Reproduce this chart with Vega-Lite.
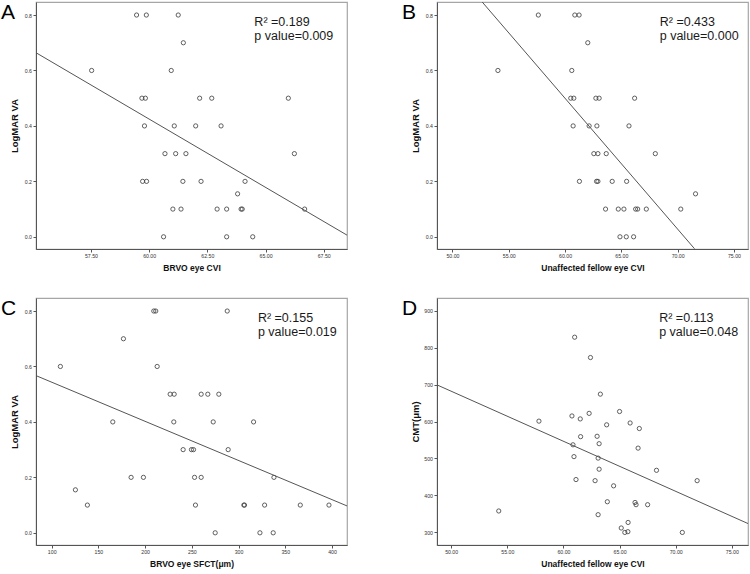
{
  "$schema": "https://vega.github.io/schema/vega-lite/v6.json",
  "padding": {"left": 0, "top": 1, "right": 0, "bottom": 0},
  "columns": 2,
  "spacing": {"row": 24, "column": 53},
  "datasets": {
    "a": [
      {"x": 59.46, "y": 0.8}, {"x": 59.88, "y": 0.8}, {"x": 61.25, "y": 0.8}, {"x": 61.47, "y": 0.7},
      {"x": 57.53, "y": 0.6}, {"x": 60.95, "y": 0.6}, {"x": 59.69, "y": 0.5}, {"x": 59.84, "y": 0.5},
      {"x": 62.17, "y": 0.5}, {"x": 62.69, "y": 0.5}, {"x": 65.98, "y": 0.5}, {"x": 59.8, "y": 0.4},
      {"x": 61.08, "y": 0.4}, {"x": 62.0, "y": 0.4}, {"x": 63.09, "y": 0.4}, {"x": 60.68, "y": 0.3},
      {"x": 61.14, "y": 0.3}, {"x": 61.58, "y": 0.3}, {"x": 66.24, "y": 0.3}, {"x": 59.72, "y": 0.2},
      {"x": 59.89, "y": 0.2}, {"x": 61.45, "y": 0.2}, {"x": 62.23, "y": 0.2}, {"x": 64.12, "y": 0.2},
      {"x": 63.8, "y": 0.155}, {"x": 61.02, "y": 0.1}, {"x": 61.37, "y": 0.1}, {"x": 62.92, "y": 0.1},
      {"x": 63.33, "y": 0.1}, {"x": 63.95, "y": 0.1}, {"x": 64.0, "y": 0.1}, {"x": 66.68, "y": 0.1},
      {"x": 60.62, "y": 0}, {"x": 63.33, "y": 0}, {"x": 64.45, "y": 0}
    ],
    "a_fit": [{"x": 55.14, "y": 0.664}, {"x": 68.5, "y": 0.006}],
    "a_note": [{"x": 64.52, "y": 0.76, "label": "R² =0.189"}, {"x": 64.52, "y": 0.7116, "label": "p value=0.009"}],
    "b": [
      {"x": 57.63, "y": 0.8}, {"x": 60.87, "y": 0.8}, {"x": 61.25, "y": 0.8}, {"x": 62.02, "y": 0.7},
      {"x": 54.04, "y": 0.6}, {"x": 60.6, "y": 0.6}, {"x": 60.51, "y": 0.5}, {"x": 60.78, "y": 0.5},
      {"x": 62.74, "y": 0.5}, {"x": 63.03, "y": 0.5}, {"x": 66.18, "y": 0.5}, {"x": 60.72, "y": 0.4},
      {"x": 62.14, "y": 0.4}, {"x": 62.83, "y": 0.4}, {"x": 65.68, "y": 0.4}, {"x": 62.56, "y": 0.3},
      {"x": 62.92, "y": 0.3}, {"x": 63.66, "y": 0.3}, {"x": 68.02, "y": 0.3}, {"x": 61.28, "y": 0.2},
      {"x": 62.8, "y": 0.2}, {"x": 62.92, "y": 0.2}, {"x": 64.19, "y": 0.2}, {"x": 65.47, "y": 0.2},
      {"x": 71.59, "y": 0.155}, {"x": 63.6, "y": 0.1}, {"x": 64.73, "y": 0.1}, {"x": 65.23, "y": 0.1},
      {"x": 66.27, "y": 0.1}, {"x": 66.45, "y": 0.1}, {"x": 67.22, "y": 0.1}, {"x": 70.28, "y": 0.1},
      {"x": 64.88, "y": 0}, {"x": 65.44, "y": 0}, {"x": 66.09, "y": 0}
    ],
    "b_fit": [{"x": 52.58, "y": 0.85}, {"x": 71.5, "y": -0.043}],
    "b_note": [{"x": 68.41, "y": 0.76, "label": "R² =0.433"}, {"x": 68.41, "y": 0.7116, "label": "p value=0.000"}],
    "c": [
      {"x": 209.3, "y": 0.8}, {"x": 211.4, "y": 0.8}, {"x": 287.9, "y": 0.8}, {"x": 176.8, "y": 0.7},
      {"x": 109.3, "y": 0.6}, {"x": 212.9, "y": 0.6}, {"x": 226.8, "y": 0.5}, {"x": 231.1, "y": 0.5},
      {"x": 260, "y": 0.5}, {"x": 267.1, "y": 0.5}, {"x": 278.9, "y": 0.5}, {"x": 165.4, "y": 0.4},
      {"x": 230.7, "y": 0.4}, {"x": 272.9, "y": 0.4}, {"x": 316.1, "y": 0.4}, {"x": 240.7, "y": 0.3},
      {"x": 249.6, "y": 0.3}, {"x": 251.8, "y": 0.3}, {"x": 288.9, "y": 0.3}, {"x": 185, "y": 0.2},
      {"x": 198.2, "y": 0.2}, {"x": 252.9, "y": 0.2}, {"x": 260, "y": 0.2}, {"x": 337.9, "y": 0.2},
      {"x": 125.4, "y": 0.155}, {"x": 138.2, "y": 0.1}, {"x": 253.9, "y": 0.1}, {"x": 305.7, "y": 0.1},
      {"x": 306.4, "y": 0.1}, {"x": 327.9, "y": 0.1}, {"x": 366.1, "y": 0.1}, {"x": 396.8, "y": 0.1},
      {"x": 275, "y": 0}, {"x": 322.9, "y": 0}, {"x": 337.1, "y": 0}
    ],
    "c_fit": [{"x": 83.2, "y": 0.567}, {"x": 416.1, "y": 0.097}],
    "c_note": [{"x": 320.7, "y": 0.76, "label": "R² =0.155"}, {"x": 320.7, "y": 0.7116, "label": "p value=0.019"}],
    "d": [
      {"x": 61.0, "y": 828}, {"x": 62.41, "y": 773}, {"x": 63.29, "y": 674}, {"x": 57.82, "y": 601},
      {"x": 60.76, "y": 615}, {"x": 61.5, "y": 607}, {"x": 62.29, "y": 622}, {"x": 65.0, "y": 627},
      {"x": 63.85, "y": 591}, {"x": 65.94, "y": 596}, {"x": 66.76, "y": 581}, {"x": 61.53, "y": 559},
      {"x": 63.0, "y": 560}, {"x": 63.18, "y": 540}, {"x": 60.85, "y": 537}, {"x": 66.65, "y": 528},
      {"x": 60.94, "y": 505}, {"x": 63.09, "y": 501}, {"x": 63.18, "y": 471}, {"x": 68.29, "y": 468},
      {"x": 61.12, "y": 443}, {"x": 62.82, "y": 440}, {"x": 71.91, "y": 440}, {"x": 64.47, "y": 426},
      {"x": 63.91, "y": 383}, {"x": 66.38, "y": 381}, {"x": 66.47, "y": 375}, {"x": 67.5, "y": 375},
      {"x": 54.24, "y": 358}, {"x": 63.09, "y": 348}, {"x": 65.76, "y": 327}, {"x": 65.15, "y": 312},
      {"x": 65.47, "y": 300}, {"x": 65.74, "y": 302}, {"x": 70.59, "y": 300}
    ],
    "d_fit": [{"x": 48.74, "y": 699}, {"x": 76.44, "y": 324}],
    "d_note": [{"x": 68.53, "y": 869, "label": "R² =0.113"}, {"x": 68.53, "y": 832.5, "label": "p value=0.048"}]
  },
  "concat": [
    {
      "title": {"text": "A"},
      "width": 311,
      "height": 247,
      "encoding": {
        "x": {"field": "x", "type": "quantitative", "title": "BRVO eye CVI",
          "scale": {"domain": [55.14, 68.5], "nice": false, "zero": false},
          "axis": {"values": [57.5, 60, 62.5, 65, 67.5], "format": ".2f"}},
        "y": {"field": "y", "type": "quantitative", "title": "LogMAR VA",
          "scale": {"domain": [-0.044, 0.847], "nice": false, "zero": false},
          "axis": {"values": [0, 0.2, 0.4, 0.6, 0.8], "format": ".1f"}}
      },
      "layer": [
        {"data": {"name": "a"}, "mark": {"type": "point", "shape": "circle", "filled": false, "size": 18, "stroke": "#3a3a3a", "strokeWidth": 0.8, "opacity": 1}},
        {"data": {"name": "a_fit"}, "mark": {"type": "line", "clip": true, "stroke": "#555555", "strokeWidth": 1}},
        {"data": {"name": "a_note"}, "mark": {"type": "text", "align": "left", "baseline": "alphabetic", "fontSize": 12.5, "color": "#1a1a1a"}, "encoding": {"text": {"field": "label", "type": "nominal"}}}
      ]
    },
    {
      "title": {"text": "B"},
      "width": 311,
      "height": 247,
      "encoding": {
        "x": {"field": "x", "type": "quantitative", "title": "Unaffected fellow eye CVI",
          "scale": {"domain": [48.63, 76.25], "nice": false, "zero": false},
          "axis": {"values": [50, 55, 60, 65, 70, 75], "format": ".2f"}},
        "y": {"field": "y", "type": "quantitative", "title": "LogMAR VA",
          "scale": {"domain": [-0.044, 0.847], "nice": false, "zero": false},
          "axis": {"values": [0, 0.2, 0.4, 0.6, 0.8], "format": ".1f"}}
      },
      "layer": [
        {"data": {"name": "b"}, "mark": {"type": "point", "shape": "circle", "filled": false, "size": 18, "stroke": "#3a3a3a", "strokeWidth": 0.8, "opacity": 1}},
        {"data": {"name": "b_fit"}, "mark": {"type": "line", "clip": true, "stroke": "#555555", "strokeWidth": 1}},
        {"data": {"name": "b_note"}, "mark": {"type": "text", "align": "left", "baseline": "alphabetic", "fontSize": 12.5, "color": "#1a1a1a"}, "encoding": {"text": {"field": "label", "type": "nominal"}}}
      ]
    },
    {
      "title": {"text": "C"},
      "width": 311,
      "height": 247,
      "encoding": {
        "x": {"field": "x", "type": "quantitative", "title": "BRVO eye SFCT(μm)",
          "scale": {"domain": [83.2, 416.1], "nice": false, "zero": false},
          "axis": {"values": [100, 150, 200, 250, 300, 350, 400], "format": "d"}},
        "y": {"field": "y", "type": "quantitative", "title": "LogMAR VA",
          "scale": {"domain": [-0.044, 0.847], "nice": false, "zero": false},
          "axis": {"values": [0, 0.2, 0.4, 0.6, 0.8], "format": ".1f"}}
      },
      "layer": [
        {"data": {"name": "c"}, "mark": {"type": "point", "shape": "circle", "filled": false, "size": 18, "stroke": "#3a3a3a", "strokeWidth": 0.8, "opacity": 1}},
        {"data": {"name": "c_fit"}, "mark": {"type": "line", "clip": true, "stroke": "#555555", "strokeWidth": 1}},
        {"data": {"name": "c_note"}, "mark": {"type": "text", "align": "left", "baseline": "alphabetic", "fontSize": 12.5, "color": "#1a1a1a"}, "encoding": {"text": {"field": "label", "type": "nominal"}}}
      ]
    },
    {
      "title": {"text": "D"},
      "width": 311,
      "height": 247,
      "encoding": {
        "x": {"field": "x", "type": "quantitative", "title": "Unaffected fellow eye CVI",
          "scale": {"domain": [48.74, 76.44], "nice": false, "zero": false},
          "axis": {"values": [50, 55, 60, 65, 70, 75], "format": ".2f"}},
        "y": {"field": "y", "type": "quantitative", "title": "CMT(μm)",
          "scale": {"domain": [266, 934], "nice": false, "zero": false},
          "axis": {"values": [300, 400, 500, 600, 700, 800, 900], "format": "d"}}
      },
      "layer": [
        {"data": {"name": "d"}, "mark": {"type": "point", "shape": "circle", "filled": false, "size": 18, "stroke": "#3a3a3a", "strokeWidth": 0.8, "opacity": 1}},
        {"data": {"name": "d_fit"}, "mark": {"type": "line", "clip": true, "stroke": "#555555", "strokeWidth": 1}},
        {"data": {"name": "d_note"}, "mark": {"type": "text", "align": "left", "baseline": "alphabetic", "fontSize": 12.5, "color": "#1a1a1a"}, "encoding": {"text": {"field": "label", "type": "nominal"}}}
      ]
    }
  ],
  "config": {
    "font": "Liberation Sans",
    "view": {"stroke": "#a6a6a6", "strokeWidth": 1.2},
    "axis": {
      "grid": false,
      "domainColor": "#555555",
      "domainWidth": 1,
      "tickColor": "#555555",
      "tickSize": 3,
      "tickWidth": 1,
      "labelFontSize": 5.2,
      "labelColor": "#333333",
      "labelPadding": 1.5,
      "titleFontSize": 8.5,
      "titleFontWeight": "bold",
      "titleColor": "#111111"
    },
    "axisX": {"titlePadding": 5},
    "axisY": {"titleX": -17, "titleFontSize": 9.5},
    "title": {
      "fontSize": 21,
      "fontWeight": "normal",
      "color": "#000000",
      "anchor": "start",
      "frame": "group",
      "dx": -35,
      "offset": -21,
      "baseline": "alphabetic"
    }
  }
}
